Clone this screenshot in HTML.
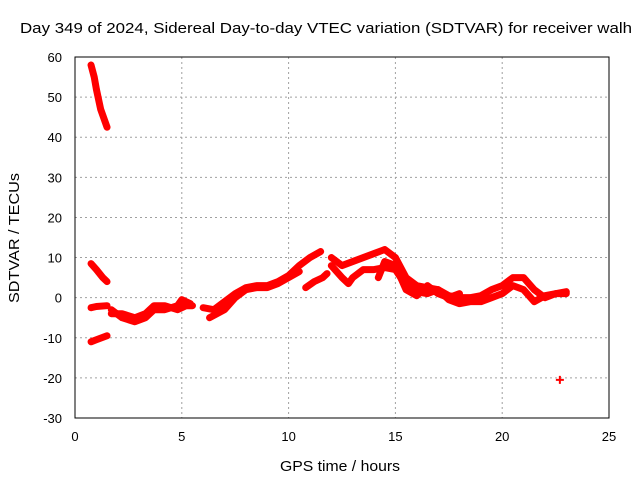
<!DOCTYPE html>
<html><head><meta charset="utf-8"><style>
body{margin:0;background:#fff;}
svg text{font-family:"Liberation Sans",sans-serif;font-size:13px;fill:#000;}
</style></head><body>
<svg id="chart" width="640" height="480" viewBox="0 0 640 480" xmlns="http://www.w3.org/2000/svg">
<rect width="640" height="480" fill="#fff"/>
<g id="grid"></g><g id="ticks"></g><g id="series"></g>
<rect x="75" y="57" width="534" height="361" fill="none" stroke="#000" stroke-width="1"/>
<text x="20" y="33" style="font-size:15px" textLength="612" lengthAdjust="spacingAndGlyphs">Day 349 of 2024, Sidereal Day-to-day VTEC variation (SDTVAR) for receiver walh</text>
<text x="280" y="471" style="font-size:15px" textLength="120" lengthAdjust="spacingAndGlyphs">GPS time / hours</text>
<text transform="translate(19,303) rotate(-90)" style="font-size:15px" textLength="130" lengthAdjust="spacingAndGlyphs">SDTVAR / TECUs</text>
</svg>
<script>
const xTicks=[0,5,10,15,20,25];
const yTicks=[-30,-20,-10,0,10,20,30,40,50,60];
const trackTop=[[0.75,58],[0.9,55],[1.0,52],[1.2,47],[1.5,42.5]];
const trackA=[[0.75,8.5],[1.0,7],[1.3,5],[1.5,4]];
const trackB=[[0.75,-11],[1.0,-10.5],[1.5,-9.5]];
const trackC=[[0.75,-2.5],[1.0,-2.2],[1.5,-2]];
const trackMain1=[[1.7,-3],[2.2,-5],[2.8,-6],[3.3,-5],[3.7,-3],[4.2,-3],[4.5,-2.5],[4.8,-2],[5.0,-0.5],[5.4,-1.5]];
const trackMain2=[[1.7,-4],[2.2,-4],[2.8,-5],[3.3,-4],[3.7,-2],[4.2,-2],[4.8,-3],[5.2,-2],[5.5,-2]];
const trackMain3=[[6.0,-2.5],[6.5,-3],[7,-1],[7.5,1],[8,2.5],[8.5,3],[9,3],[9.5,4],[10,5.5],[10.5,8],[11,10],[11.5,11.5]];
const trackMain4=[[6.3,-5],[7,-3],[7.5,0],[8,2],[8.5,2.5],[9,2.5],[9.5,3.5],[10,5],[10.5,6.5]];
const trackMain5=[[10.8,2.5],[11.2,4],[11.6,5],[11.8,6]];
const trackUp=[[12,10],[12.5,8],[13,9],[13.5,10],[14,11],[14.5,12],[15,10],[15.5,5],[16,3],[16.5,2.5],[17,2],[17.5,0.5],[18,0],[18.5,0],[19,0.5],[19.5,2],[20,3],[20.5,5],[21,5],[21.5,2],[22,0],[22.5,1],[23,1.5]];
const trackLow=[[12,8],[12.5,5],[12.8,3.5],[13,5],[13.5,7],[14,7],[14.5,7.5],[15,7],[15.5,3],[16,1.5],[16.5,1],[17,2],[17.5,-0.5],[18,-1.5],[18.5,-1],[19,-1],[19.5,0],[20,1],[20.5,3],[21,2],[21.5,-1],[22,0.5],[22.5,1],[23,1]];
const trackMid=[[14.2,5],[14.5,9],[15,8],[15.5,2],[16,0.5],[16.5,3],[17,1],[17.5,0],[18,1]];
const lonePoint=[[22.7,-20.5]];
const tracks=[trackTop,trackA,trackB,trackC,trackMain1,trackMain2,trackMain3,trackMain4,trackMain5,trackUp,trackLow,trackMid];
const X0=75,X1=609,Y0=418,Y1=57;
const xs=v=>X0+(v-0)/25*(X1-X0);
const ys=v=>Y0-(v+30)/90*(Y0-Y1);
const NS="http://www.w3.org/2000/svg";
const grid=document.getElementById('grid'),ticks=document.getElementById('ticks'),ser=document.getElementById('series');
function mk(tag,at,p){const e=document.createElementNS(NS,tag);for(const k in at)e.setAttribute(k,at[k]);p.appendChild(e);return e;}
xTicks.forEach(t=>{const x=xs(t);
 if(t>0&&t<25){const g=mk('line',{x1:x,x2:x,y1:Y1,y2:Y0,stroke:'#a0a0a0','stroke-dasharray':'2,3'},grid);
 
 }
 const l=mk('text',{x:x,y:Y0+23,'text-anchor':'middle'},ticks);l.textContent=t;
 
 });
yTicks.forEach(t=>{const y=ys(t);
 if(t>-30&&t<60){const g=mk('line',{x1:X0,x2:X1,y1:y,y2:y,stroke:'#a0a0a0','stroke-dasharray':'2,3'},grid);
 
 }
 const l=mk('text',{x:X0-13,y:y+5,'text-anchor':'end'},ticks);l.textContent=t;
 
 });
tracks.forEach(tr=>{const p=mk('polyline',{points:tr.map(d=>xs(d[0])+','+ys(d[1])).join(' '),fill:'none',stroke:'#ff0000','stroke-width':7,'stroke-linejoin':'round','stroke-linecap':'round'},ser);
 
 });
lonePoint.forEach(d=>{const x=xs(d[0]),y=ys(d[1]);
 const p=mk('path',{d:`M${x-4},${y}H${x+4}M${x},${y-4}V${y+4}`,stroke:'#ff0000','stroke-width':2},ser);
 
 });
</script>
</body></html>
